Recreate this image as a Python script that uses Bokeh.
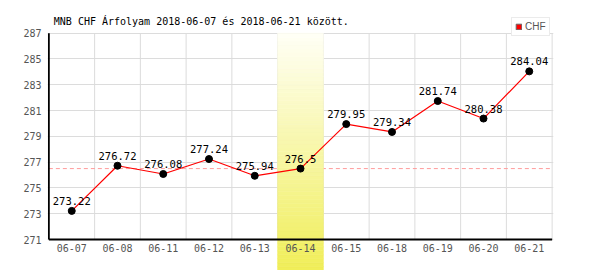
import numpy as np
from bokeh.plotting import figure
from bokeh.models import Range1d, Legend, LegendItem
from bokeh.core.properties import value
from bokeh.embed import file_html
from bokeh.resources import INLINE

# ---- data ----
dates = ["06-07", "06-08", "06-11", "06-12", "06-13", "06-14",
         "06-15", "06-18", "06-19", "06-20", "06-21"]
rates = [273.22, 276.72, 276.08, 277.24, 275.94, 276.5,
         279.95, 279.34, 281.74, 280.38, 284.04]
rate_labels = ["273.22", "276.72", "276.08", "277.24", "275.94", "276.5",
               "279.95", "279.34", "281.74", "280.38", "284.04"]
y_ticks = [271, 273, 275, 277, 279, 281, 283, 285, 287]
highlight_date = "06-14"
series_name = "CHF"
title_text = "MNB CHF Árfolyam 2018-06-07 és 2018-06-21 között."

# ---- layout (pixels) ----
W, H = 600, 270
FL, FR = 47, 553            # frame left / right
PX_TOP, PX_BOT = 32.7, 239.0  # pixel rows of top / bottom y tick
k = (PX_BOT - PX_TOP) / (y_ticks[-1] - y_ticks[0])
y_end = y_ticks[-1] + PX_TOP / k
y_start = y_ticks[0] - (H - PX_BOT) / k
n = len(dates)
x_pad = 0.03
xpu = (FR - FL) / (n + 2 * x_pad)

MONO = value("DejaVu Sans Mono")
GRID = "#dcdcdc"

p = figure(width=W, height=H, output_backend="svg", toolbar_location=None,
           x_range=Range1d(-x_pad, n + x_pad), y_range=Range1d(y_start, y_end),
           x_axis_location=None, min_border_left=FL, min_border_right=W - FR,
           min_border_top=0, min_border_bottom=0)
p.outline_line_color = None
p.background_fill_color = "white"
p.xgrid.visible = False
p.ygrid.grid_line_color = GRID
p.ygrid.grid_line_width = 1
p.yaxis.ticker = y_ticks
p.yaxis.axis_line_color = None
p.yaxis.major_tick_line_color = None
p.yaxis.major_tick_out = 0
p.yaxis.major_tick_in = 0
p.yaxis.minor_tick_line_color = None
p.yaxis.major_label_standoff = 6
p.yaxis.major_label_text_font = "DejaVu Sans Mono"
p.yaxis.major_label_text_font_size = "10px"
p.yaxis.major_label_text_color = "#555555"

xs = np.arange(n) + 0.5
bounds = np.arange(1, n + 1)

# vertical grid lines (category boundaries)
p.segment(x0=bounds, y0=[y_ticks[0]] * n, x1=bounds, y1=[y_ticks[-1]] * n,
          line_color=GRID, line_width=1)

# dashed reference line at highlighted value
hi = dates.index(highlight_date)
p.segment(x0=[0], y0=[rates[hi]], x1=[n], y1=[rates[hi]],
          line_color="#ff9c9c", line_width=1, line_dash="4 3")

# highlighted column with vertical gradient
ns = 60
edges = np.linspace(y_start, y_ticks[-1], ns + 1)
c_bot = np.array([240, 238, 88])
c_top = np.array([255, 255, 246])
cols = []
for j in range(ns):
    t = (j + 0.5) / ns
    c = c_bot + (c_top - c_bot) * t
    cols.append("#%02x%02x%02x" % tuple(int(round(v)) for v in c))
p.quad(left=[hi] * ns, right=[hi + 1] * ns, bottom=edges[:-1], top=edges[1:],
       fill_color=cols, line_color=cols, line_width=0.6)

# axes lines
p.segment(x0=[0, 0], y0=[y_ticks[0], y_ticks[0]], x1=[0, n], y1=[y_ticks[-1], y_ticks[0]],
          line_color="black", line_width=1.8)

# legend swatch renderer (zero-size box hidden under the last marker)
swatch = p.quad(left=xs[-1:], right=xs[-1:], bottom=rates[-1:], top=rates[-1:],
                fill_color="red", line_color="#666666", line_width=1)

# series
p.line(xs, rates, line_color="red", line_width=1.2)
p.scatter(xs, rates, size=7, fill_color="black", line_color="black")
p.text(xs, rates, text=rate_labels, text_align="center", text_baseline="middle",
       y_offset=-10, text_font=MONO, text_font_size="10.5px", text_color="black")

# x tick labels
lab_y = y_ticks[0] - (247.7 - PX_BOT) / k
p.text(xs, [lab_y] * n, text=dates, text_align="center", text_baseline="middle",
       text_font=MONO, text_font_size="10px", text_color="#555555")

# title
p.text(x=[(53.3 - FL) / xpu - x_pad], y=[y_ticks[-1] + (PX_TOP - 20.5) / k], text=[title_text],
       text_align="left", text_baseline="middle", text_font=MONO,
       text_font_size="10px", text_color="black")

legend = Legend(items=[LegendItem(label=series_name, renderers=[swatch])],
                location=(511 - FL, H - 36), orientation="vertical",
                border_line_color="#d8d8d8", border_line_width=1.5,
                background_fill_color="white", background_fill_alpha=1,
                padding=3, spacing=0, margin=0, glyph_width=7, glyph_height=7,
                label_standoff=3, label_height=10, label_text_font="Liberation Sans",
                label_text_font_size="10px", label_text_color="#555555")
p.add_layout(legend, "center")

open("out.html", "w").write(file_html(p, INLINE))
